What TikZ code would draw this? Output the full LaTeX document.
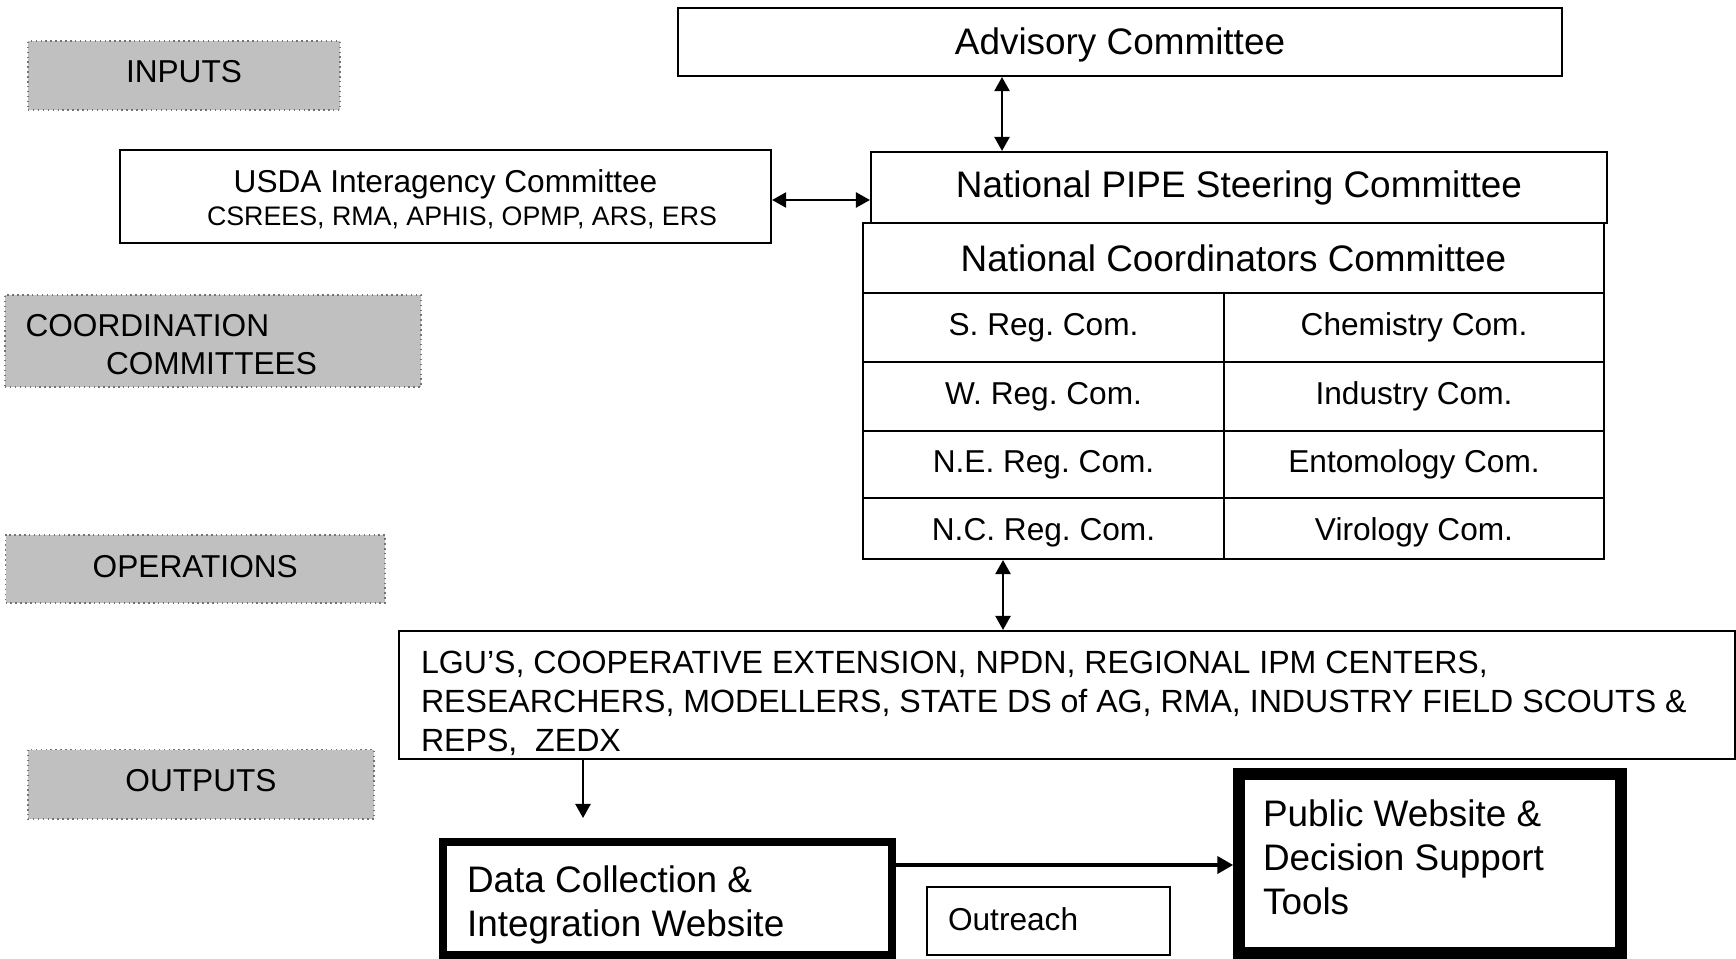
\documentclass[tikz,border=0pt]{standalone}
\usepackage{fontspec}
\setmainfont{Liberation Sans}
\usetikzlibrary{arrows.meta}
\usetikzlibrary{positioning}
\definecolor{cgray}{rgb}{0.753, 0.753, 0.753}
\frenchspacing

\tikzset{
  stagebox/.style={draw=black!55, densely dotted, fill=cgray, inner sep=0pt, text height=0.42cm, font=\fontsize{9}{10.7}\selectfont},
  box/.style={draw, line width=0.6pt, inner sep=0pt, align=center},
  cell/.style={box, text height=0.42cm, font=\fontsize{9}{11}\selectfont},
  bigbox/.style={draw, inner xsep=0.24cm, inner ysep=0pt, align=flush left, font=\fontsize{10.5}{12.6}\selectfont},
  dblarrow/.style={line width=0.6pt, {Triangle[length=4pt,width=4.3pt]}-{Triangle[length=4pt,width=4.3pt]}},
  onearrow/.style={line width=0.6pt, -{Triangle[length=4pt,width=4.3pt]}},
  thickarrow/.style={line width=1.1pt, -{Triangle[length=4.5pt,width=4.8pt]}},
}

\begin{document}
\begin{tikzpicture}
  \useasboundingbox (0, 0) rectangle (17.36, -9.59);

  \node [stagebox, minimum width=3.12cm, minimum height=0.69cm, text depth=0.27cm] (inputs) at (1.84, -0.755) {INPUTS};
  \node [stagebox, minimum width=4.16cm, minimum height=0.92cm, text height=0.418cm, text depth=0.502cm, inner xsep=0.205cm, text width=3.75cm, align=flush left] (coordination) at (2.13, -3.41) {COORDINATION\\\hspace*{0.805cm}COMMITTEES};
  \node [stagebox, minimum width=3.795cm, minimum height=0.68cm, text depth=0.26cm] (operations) at (1.9525, -5.69) {OPERATIONS};
  \node [stagebox, minimum width=3.463cm, minimum height=0.695cm, text depth=0.275cm] (outputs) at (2.01, -7.8425) {OUTPUTS};

  \node [box, font=\fontsize{10.5}{12.6}\selectfont, minimum width=8.84cm, minimum height=0.68cm, text height=0.462cm, text depth=0.218cm] (advisory) at (11.2, -0.42) {Advisory Committee};
  \node [box, font=\fontsize{10.5}{12.6}\selectfont, minimum width=7.36cm, minimum height=0.71cm] (steering) at (12.39, -1.875) {National PIPE Steering Committee};
  \node [box, align=flush center, font=\fontsize{9}{9.3}\selectfont, text width=6.51cm, minimum height=0.93cm, text height=0.428cm, text depth=0.502cm] (usda) at (4.455, -1.965)
    {USDA Interagency Committee\\{\fontsize{7.62}{9}\selectfont\hspace*{0.33cm}CSREES, RMA, APHIS, OPMP, ARS, ERS}};

  \node [box, font=\fontsize{10.5}{12.6}\selectfont, minimum width=7.41cm, minimum height=0.704cm] (coordinators) at (12.335, -2.582) {National Coordinators Committee};
  \node [cell, minimum width=3.61cm, minimum height=0.69cm, text depth=0.27cm] (sreg) at (10.435, -3.277) {S. Reg. Com.};
  \node [cell, minimum width=3.80cm, minimum height=0.69cm, text depth=0.27cm] (chem) at (14.14, -3.277) {Chemistry Com.};
  \node [cell, minimum width=3.61cm, minimum height=0.687cm, text depth=0.267cm] (wreg) at (10.435, -3.9635) {W. Reg. Com.};
  \node [cell, minimum width=3.80cm, minimum height=0.687cm, text depth=0.267cm] (industry) at (14.14, -3.9635) {Industry Com.};
  \node [cell, minimum width=3.61cm, minimum height=0.675cm, text depth=0.255cm] (nereg) at (10.435, -4.6445) {N.E. Reg. Com.};
  \node [cell, minimum width=3.80cm, minimum height=0.675cm, text depth=0.255cm] (ento) at (14.14, -4.6445) {Entomology Com.};
  \node [cell, minimum width=3.61cm, minimum height=0.608cm, text depth=0.188cm] (ncreg) at (10.435, -5.286) {N.C. Reg. Com.};
  \node [cell, minimum width=3.80cm, minimum height=0.608cm, text depth=0.188cm] (viro) at (14.14, -5.286) {Virology Com.};

  \node [draw, line width=0.6pt, inner xsep=0.22cm, inner ysep=0pt, text width=12.92cm, align=flush left, minimum height=1.28cm, text height=0.423cm, text depth=0.857cm, font=\fontsize{9.14}{11.1}\selectfont] (lgu) at (10.67, -6.95)
    {LGU’S, COOPERATIVE EXTENSION, NPDN, REGIONAL IPM CENTERS,\\RESEARCHERS, MODELLERS, STATE DS of AG, RMA, INDUSTRY FIELD SCOUTS \&\\REPS,\ \ ZEDX};

  \node [bigbox, line width=2.1pt, text width=4.01cm, minimum height=1.13cm, text height=0.502cm, text depth=0.628cm] (data) at (6.675, -8.985) {Data Collection \&\\Integration Website};
  \node [bigbox, line width=3.3pt, text width=3.34cm, minimum height=1.79cm, text height=0.522cm, text depth=1.268cm] (public) at (14.30, -8.635) {Public Website \&\\Decision Support\\Tools};
  \node [draw, line width=0.6pt, inner xsep=0.21cm, inner ysep=0pt, text width=2.01cm, align=flush left, minimum height=0.68cm, text height=0.433cm, text depth=0.247cm, font=\fontsize{9}{11}\selectfont] (outreach) at (10.485, -9.21) {Outreach};

  \coordinate (advx) at (10.02, 0);
  \coordinate (usday) at (0, -2.00);
  \coordinate (opsx) at (10.03, 0);
  \coordinate (datain) at (5.83, -8.18);
  \coordinate (feedy) at (0, -8.65);

  \draw [dblarrow] (advisory.south -| advx) -- (steering.north -| advx);
  \draw [dblarrow] (usda.east |- usday) -- (steering.west |- usday);
  \draw [dblarrow] (ncreg.south -| opsx) -- (lgu.north -| opsx);
  \draw [onearrow] (lgu.south -| datain) -- (datain);
  \draw [thickarrow] (data.east |- feedy) -- (public.west |- feedy);
\end{tikzpicture}
\end{document}
